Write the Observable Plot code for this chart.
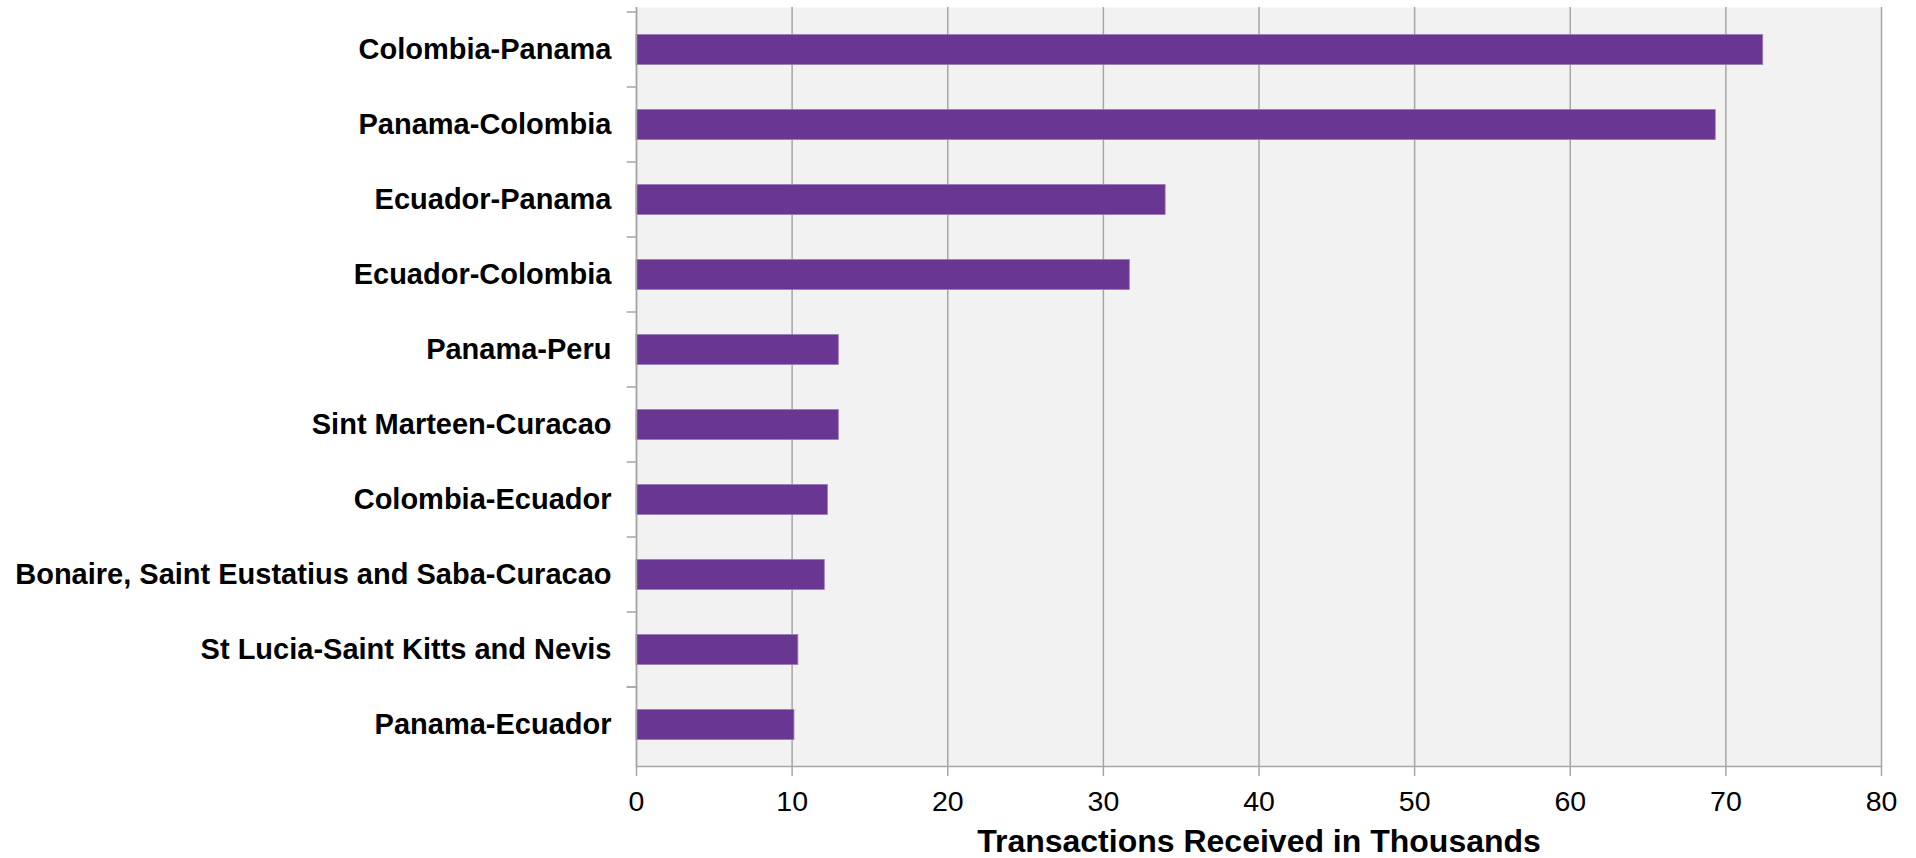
<!DOCTYPE html>
<html>
<head>
<meta charset="utf-8">
<script src="https://cdn.jsdelivr.net/npm/d3@7"></script>
<script src="https://cdn.jsdelivr.net/npm/@observablehq/plot@0.6"></script>
<style>
  html, body { margin: 0; padding: 0; background: #ffffff; }
  #chart svg { display: block; }
</style>
</head>
<body>
<div id="chart"></div>
<script>
const corridors = [
  "Colombia-Panama",
  "Panama-Colombia",
  "Ecuador-Panama",
  "Ecuador-Colombia",
  "Panama-Peru",
  "Sint Marteen-Curacao",
  "Colombia-Ecuador",
  "Bonaire, Saint Eustatius and Saba-Curacao",
  "St Lucia-Saint Kitts and Nevis",
  "Panama-Ecuador"
];
const transactions = [72.4, 69.35, 34.0, 31.7, 13.0, 13.0, 12.3, 12.1, 10.4, 10.15];
const xTicks = [0, 10, 20, 30, 40, 50, 60, 70, 80];
const axisTitle = "Transactions Received in Thousands";

const data = corridors.map((c, i) => ({corridor: c, value: transactions[i]}));

const W = 1916, H = 858;
const mT = 7, mB = 92, mL = 636, mR = 35;
const step = (H - mT - mB) / corridors.length;

const boundaries = corridors.map((c, i) => ({c, dy: -step / 2}))
  .concat([{c: corridors[corridors.length - 1], dy: step / 2}]);

const gridColor = "#a6a6a6";

const chart = Plot.plot({
  width: W,
  height: H,
  marginTop: mT,
  marginBottom: mB,
  marginLeft: mL,
  marginRight: mR,
  style: {fontFamily: "'Liberation Sans', Arial, sans-serif", fontSize: "29px", color: "#000", background: "#fff"},
  x: {domain: [0, 80], label: null},
  y: {domain: corridors, padding: 0, label: null},
  marks: [
    Plot.frame({fill: "#f2f2f2", stroke: null}),
    Plot.gridX(xTicks, {stroke: gridColor, strokeOpacity: 1, strokeWidth: 1.5}),
    Plot.barX(data, {
      x: "value", y: "corridor",
      fill: "#693692", stroke: "#9b7dbb", strokeWidth: 0.8,
      insetTop: (step - 31) / 2, insetBottom: (step - 31) / 2
    }),
    Plot.ruleX([0], {stroke: gridColor, strokeWidth: 1.5}),
    Plot.frame({anchor: "bottom", stroke: gridColor, strokeWidth: 1.5}),
    Plot.ruleY(boundaries, {y: "c", dy: "dy", x1: -0.6, x2: 0, stroke: gridColor, strokeWidth: 1.5, clip: false}),
    Plot.axisX(xTicks, {tickSize: 10, tickPadding: 14, stroke: gridColor, strokeWidth: 1.5, fontSize: 28.5, fill: "#000", label: null}),
    Plot.axisY({tickSize: 0, tickPadding: 25, fontSize: 29, fontWeight: "bold", fill: "#000", label: null}),
    Plot.text([axisTitle], {frameAnchor: "bottom", dy: 85, fontSize: 32, fontWeight: "bold", fill: "#000"})
  ]
});

document.getElementById("chart").appendChild(chart);
</script>
</body>
</html>
